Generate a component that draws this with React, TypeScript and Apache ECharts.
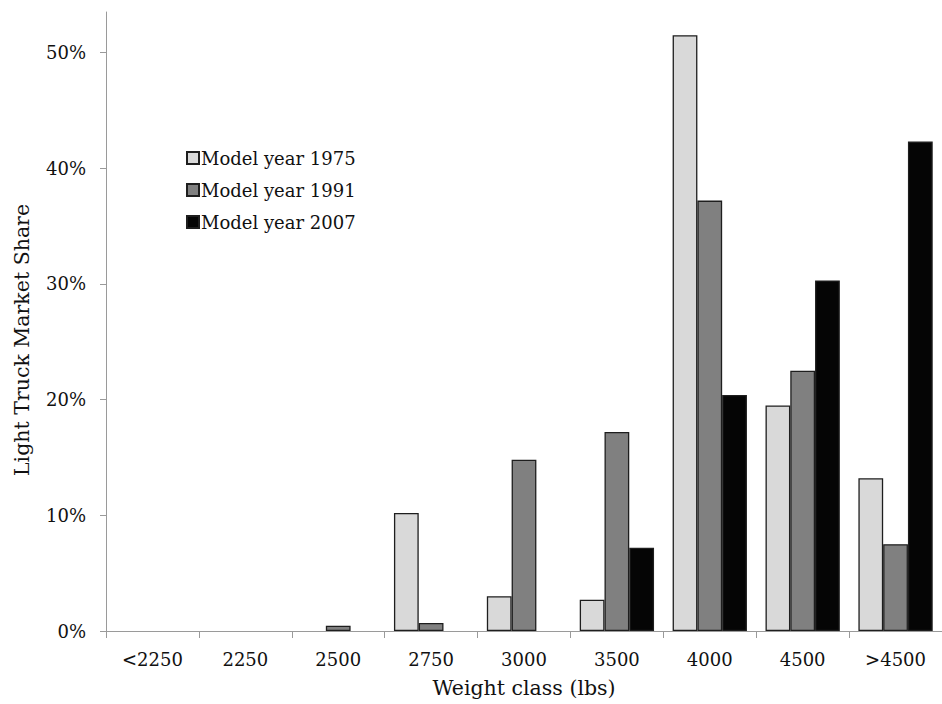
import React, { useEffect, useRef } from "react";
import * as echarts from "echarts";

const categories = ["<2250", "2250", "2500", "2750", "3000", "3500", "4000", "4500", ">4500"];
const seriesNames = ["Model year 1975", "Model year 1991", "Model year 2007"];
const my1975: (number | string)[] = ["-", "-", "-", 10.2, 3.0, 2.7, 51.5, 19.5, 13.2];
const my1991: (number | string)[] = ["-", "-", 0.45, 0.7, 14.8, 17.2, 37.2, 22.5, 7.5];
const my2007: (number | string)[] = ["-", "-", "-", "-", "-", 7.2, 20.4, 30.3, 42.3];
const yTicks = [0, 10, 20, 30, 40, 50];
const colors = ["#d9d9d9", "#808080", "#050505"];
const yTitle = "Light Truck Market Share";
const xTitle = "Weight class (lbs)";

const FONT = "DejaVu Serif";

export default function App() {
  const ref = useRef<HTMLDivElement>(null);
  useEffect(() => {
    if (!ref.current) return;
    const chart = echarts.init(ref.current, null, { renderer: "svg" });
    const data = [my1975, my1991, my2007];
    chart.setOption({
      animation: false,
      grid: { left: 106, top: 12, right: 0, bottom: 73, containLabel: false },
      legend: {
        orient: "vertical",
        left: 181,
        top: 142,
        itemWidth: 12,
        itemHeight: 12,
        itemGap: 10,
        icon: "rect",
        data: seriesNames,
        textStyle: { fontFamily: FONT, fontSize: 18, color: "#111", lineHeight: 22, padding: [0, 0, 0, -3] },
      },
      graphic: [
        {
          type: "text",
          x: 22,
          y: 340,
          rotation: Math.PI / 2,
          style: {
            text: yTitle,
            fontFamily: FONT,
            fontSize: 20.5,
            fill: "#111",
            align: "center",
            verticalAlign: "middle",
          },
        },
      ],
      xAxis: {
        type: "category",
        data: categories,
        name: xTitle,
        nameLocation: "middle",
        nameGap: 46,
        nameTextStyle: { fontFamily: FONT, fontSize: 20.5, color: "#111" },
        axisLine: { lineStyle: { color: "#9a9a9a", width: 1 } },
        axisTick: { show: true, length: 7, lineStyle: { color: "#9a9a9a" } },
        axisLabel: { fontFamily: FONT, fontSize: 18, color: "#111", margin: 19 },
      },
      yAxis: {
        type: "value",
        min: 0,
        max: 53.5,
        interval: 10,
        splitLine: { show: false },
        axisLine: { show: true, lineStyle: { color: "#9a9a9a", width: 1 } },
        axisTick: { show: true, length: 6, lineStyle: { color: "#9a9a9a" }, customValues: yTicks },
        axisLabel: {
          fontFamily: FONT,
          fontSize: 18,
          color: "#111",
          margin: 20,
          customValues: yTicks,
          formatter: (v: number) => `${Math.round(v)}%`,
        },
      },
      series: seriesNames.map((n, i) => ({
        name: n,
        type: "bar",
        data: data[i],
        barGap: "0%",
        barCategoryGap: "20%",
        itemStyle: { color: colors[i], borderColor: "#1e1e1e", borderWidth: 1.3 },
      })),
    });
    return () => chart.dispose();
  }, []);
  return <div ref={ref} style={{ width: 942, height: 704, position: "absolute", left: 0, top: 0 }} />;
}
